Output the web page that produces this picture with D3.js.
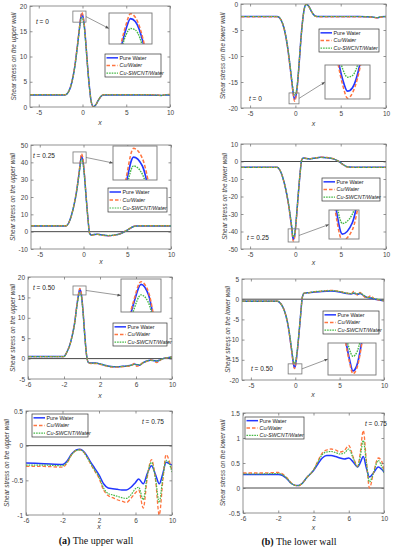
<!DOCTYPE html>
<html><head><meta charset="utf-8">
<script src="https://cdn.jsdelivr.net/npm/d3@7"></script>
<style>body{margin:0;background:#fff} svg{display:block}</style>
</head><body><svg id="c" width="396" height="550"></svg>
<script>
// ---------------- DATA ----------------
const seriesNames = ["Pure Water", "Cu/Water", "Cu-SWCNT/Water"];
const timeLabels = ["0", "0", "0.25", "0.25", "0.50", "0.50", "0.75", "0.75"];
const yTitles = ["Shear stress on the upper wall", "Shear stress on the lower wall"];
const captionTags = ["(a)", "(b)"];
const captionTexts = [" The upper wall", " The lower wall"];

// t = 0, upper wall
const p1X   = [-6,-4,-2,-1.6,-1.2,-0.9,-0.6,-0.4,-0.2,-0.1,0,0.2,0.4,0.6,0.8,1.0,1.25,1.5,1.8,2.1,2.4,3,5,7,8.5,9,9.5,10];
const p1Pure= [2.4,2.4,2.4,3.0,5.0,7.8,11.8,14.8,17.6,18.4,18.2,16.2,12.2,7.6,3.8,1.0,0.05,0.4,1.3,2.1,2.4,2.4,2.4,2.4,2.35,2.3,2.4,2.4];
const p1Cu  = [2.45,2.45,2.45,3.0,5.1,7.9,12.0,15.0,17.9,18.75,18.5,16.4,12.3,7.6,3.8,1.0,0.0,0.4,1.3,2.1,2.45,2.45,2.45,2.45,2.4,2.3,2.45,2.5];
const p1Hyb = [2.4,2.4,2.4,3.0,5.0,7.7,11.6,14.6,17.2,17.7,17.6,15.8,12.0,7.6,3.8,1.0,0.1,0.4,1.3,2.1,2.4,2.4,2.4,2.4,2.35,2.3,2.4,2.4];

// t = 0, lower wall
const p2X   = [-6,-4,-2,-1.6,-1.2,-0.9,-0.6,-0.4,-0.2,-0.1,0,0.2,0.4,0.6,0.8,1.0,1.2,1.5,1.8,2.1,2.4,3,5,7,8.5,9,9.5,10];
const p2Pure= [-2.4,-2.4,-2.4,-3.0,-5.0,-7.8,-11.8,-14.8,-17.6,-18.3,-18.1,-16.0,-11.8,-7.0,-3.2,-0.8,-0.05,-0.5,-1.5,-2.2,-2.4,-2.4,-2.4,-2.4,-2.5,-2.65,-2.45,-2.4];
const p2Cu  = [-2.45,-2.45,-2.45,-3.0,-5.1,-7.9,-12.0,-15.0,-17.9,-18.7,-18.4,-16.2,-11.9,-7.0,-3.2,-0.8,0.0,-0.5,-1.5,-2.2,-2.45,-2.45,-2.45,-2.45,-2.55,-2.7,-2.5,-2.45];
const p2Hyb = [-2.4,-2.4,-2.4,-3.0,-5.0,-7.7,-11.6,-14.5,-17.0,-17.5,-17.4,-15.6,-11.6,-7.0,-3.2,-0.8,-0.1,-0.5,-1.5,-2.2,-2.4,-2.4,-2.4,-2.4,-2.5,-2.6,-2.45,-2.4];

// t = 0.25, upper wall
const p3X   = [-6,-4,-2,-1.7,-1.4,-1.1,-0.8,-0.6,-0.4,-0.25,-0.1,0.1,0.3,0.5,0.7,0.9,1.2,1.6,2.0,2.8,3.5,4.2,4.8,5.2,5.6,6.0,6.5,8,10];
const p3Pure= [3.3,3.3,3.3,5,9,15,23,30,38,43.5,42,33,20,8,-1,-2,-1.7,-1.5,-1.8,-2.3,-2.0,-1.2,0.3,1.5,2.7,3.2,3.3,3.3,3.3];
const p3Cu  = [3.4,3.4,3.4,5,9,15,23.5,30.5,38.8,45,43.3,33.8,20.5,8,-1,-2.1,-1.8,-1.6,-1.9,-2.4,-2.1,-1.2,0.4,1.6,2.8,3.3,3.4,3.4,3.4];
const p3Hyb = [3.3,3.3,3.3,5,9,15,22.7,29.5,37,42,40.6,32.3,19.8,8,-1,-2,-1.7,-1.5,-1.8,-2.2,-1.9,-1.2,0.3,1.5,2.7,3.2,3.3,3.3,3.3];

// t = 0.25, lower wall
const p4X   = [-6,-4,-2,-1.7,-1.4,-1.1,-0.8,-0.6,-0.4,-0.25,-0.1,0.1,0.3,0.5,0.7,0.9,1.2,1.6,2.0,2.8,3.5,4.2,4.8,5.2,5.6,6.0,6.5,8,10];
const p4Pure= [-3.3,-3.3,-3.3,-5,-9,-15,-23,-30,-38,-44.6,-43,-33,-20,-8,1,2,1.7,1.5,1.8,2.4,2.2,1.5,0,-1.5,-2.8,-3.2,-3.3,-3.3,-3.3];
const p4Cu  = [-3.4,-3.4,-3.4,-5,-9,-15,-23.5,-30.5,-39,-45.5,-44,-34,-20.5,-8,1,2.1,1.8,1.6,1.9,2.5,2.3,1.6,0,-1.6,-2.9,-3.3,-3.4,-3.4,-3.4];
const p4Hyb = [-3.3,-3.3,-3.3,-5,-9,-15,-22.7,-29.5,-37,-43.1,-41.8,-32.5,-19.8,-8,1,2,1.7,1.5,1.8,2.3,2.1,1.5,0,-1.5,-2.8,-3.2,-3.3,-3.3,-3.3];

// t = 0.50, upper wall
const p5X   = [-6,-4,-2,-1.7,-1.4,-1.1,-0.8,-0.6,-0.4,-0.25,-0.1,0.1,0.3,0.5,0.7,1.0,1.5,2.0,2.5,3,3.5,4,4.5,5,5.5,5.8,6.1,6.4,6.8,7.2,7.6,8.0,8.3,8.7,9,9.5,10];
const p5Pure= [0.5,0.5,0.5,1.5,3,5.5,9,12.5,15.5,17,16.2,12,6,1,-0.9,-1.1,-1.1,-1.3,-1.6,-1.9,-2.0,-2.0,-1.9,-1.8,-1.6,-1.3,-1.5,-1.6,-1.0,-0.6,-0.4,-0.5,-0.6,-0.3,0,0.2,0.4];
const p5Cu  = [0.5,0.5,0.5,1.5,3,5.5,9,12.6,15.7,17.2,16.4,12.1,6,1,-0.9,-1.2,-1.2,-1.4,-1.7,-2.0,-2.1,-2.1,-2.0,-1.9,-1.7,-1.2,-1.9,-1.7,-0.9,-0.7,-0.3,-0.6,-1.0,-0.4,0,0.2,0.4];
const p5Hyb = [0.5,0.5,0.5,1.5,3,5.4,8.8,12.2,15,16.2,15.6,11.7,5.8,1,-0.9,-1.1,-1.1,-1.3,-1.6,-1.9,-2.0,-2.0,-1.9,-1.8,-1.6,-1.4,-1.5,-1.5,-1.0,-0.6,-0.4,-0.5,-0.6,-0.3,0,0.2,0.4];

// t = 0.50, lower wall
const p6X   = [-6,-4,-2,-1.6,-1.2,-0.9,-0.6,-0.4,-0.2,-0.1,0,0.2,0.4,0.6,0.8,1.0,1.5,2.0,3.0,4.0,5.0,5.8,6.3,6.6,7.0,7.3,7.7,8.0,8.5,9.0,9.5,10];
const p6Pure= [-0.5,-0.5,-0.5,-1.2,-3,-5.5,-9.5,-12.8,-16,-17,-16.6,-13.5,-9,-4,0.5,1.5,1.6,1.7,1.9,2.0,1.8,1.4,1.3,1.5,1.2,1.4,0.9,0.5,0.3,0,-0.2,-0.4];
const p6Cu  = [-0.5,-0.5,-0.5,-1.2,-3,-5.5,-9.6,-13,-16.2,-17.2,-16.8,-13.6,-9,-4,0.5,1.5,1.6,1.8,2.0,2.2,1.9,1.5,1.3,1.9,1.0,1.7,0.8,0.3,0.8,0,-0.2,-0.4];
const p6Hyb = [-0.5,-0.5,-0.5,-1.2,-3,-5.4,-9.2,-12.4,-15.3,-15.9,-15.6,-13,-8.8,-4,0.5,1.5,1.6,1.8,2.0,2.1,1.9,1.5,1.4,1.6,1.3,1.5,1.0,0.5,0.4,0.1,-0.1,-0.4];

// t = 0.75, upper wall
const p7X   = [-6,-4,-2,-1.5,-1,-0.5,-0.1,0.3,0.7,1.1,1.5,2,2.5,3,3.5,4,4.5,5,5.5,6.0,6.35,6.85,7.3,7.75,8.2,8.6,9.0,9.35,9.7,10];
const p7Pure= [-0.25,-0.26,-0.27,-0.22,-0.12,-0.06,-0.05,-0.08,-0.15,-0.24,-0.32,-0.42,-0.55,-0.61,-0.62,-0.63,-0.64,-0.64,-0.6,-0.53,-0.48,-0.55,-0.4,-0.29,-0.42,-0.55,-0.4,-0.24,-0.26,-0.28];
const p7Cu  = [-0.3,-0.3,-0.31,-0.25,-0.13,-0.07,-0.06,-0.09,-0.17,-0.27,-0.36,-0.47,-0.64,-0.72,-0.75,-0.78,-0.8,-0.82,-0.76,-0.68,-0.64,-0.9,-0.45,-0.2,-0.5,-1.0,-0.5,-0.13,-0.22,-0.36];
const p7Hyb = [-0.28,-0.28,-0.29,-0.24,-0.13,-0.07,-0.06,-0.09,-0.17,-0.26,-0.35,-0.45,-0.61,-0.69,-0.71,-0.73,-0.75,-0.76,-0.71,-0.62,-0.6,-0.78,-0.42,-0.24,-0.48,-0.82,-0.45,-0.21,-0.26,-0.38];

// t = 0.75, lower wall
const p8X   = [-6,-4,-2,-1.5,-1,-0.5,0,0.3,0.7,1.2,2,2.5,3,3.5,4,4.5,5,5.5,6,6.5,7,7.3,7.65,8.0,8.35,8.8,9.35,9.7,10];
const p8Pure= [0.27,0.27,0.27,0.25,0.18,0.09,0.05,0.05,0.09,0.2,0.35,0.48,0.6,0.65,0.65,0.63,0.6,0.58,0.6,0.52,0.42,0.5,0.63,0.4,0.22,0.3,0.42,0.38,0.32];
const p8Cu  = [0.3,0.3,0.31,0.28,0.2,0.1,0.05,0.04,0.09,0.2,0.36,0.54,0.7,0.76,0.78,0.76,0.72,0.75,0.85,0.62,0.43,0.7,1.15,0.55,0.0,0.3,0.6,0.55,0.35];
const p8Hyb = [0.28,0.28,0.29,0.26,0.19,0.09,0.05,0.05,0.09,0.2,0.36,0.52,0.67,0.72,0.73,0.71,0.68,0.7,0.78,0.6,0.42,0.62,0.95,0.5,0.12,0.3,0.55,0.45,0.3];

// tick values per panel
const xTicksA = [-5, 0, 5, 10];
const xTicksB = [-6, -2, 2, 6, 10];
const yTicks1 = [0, 5, 10, 15, 20];
const yTicks2 = [-20, -15, -10, -5, 0];
const yTicks3 = [-10, 0, 10, 20, 30, 40, 50];
const yTicks4 = [-50, -40, -30, -20, -10, 0, 10];
const yTicks5 = [-5, 0, 5, 10, 15, 20];
const yTicks6 = [-20, -15, -10, -5, 0, 5];
const yTicks7 = [-1, -0.5, 0, 0.5];
const yTicks8 = [-0.5, 0, 0.5, 1, 1.5];

// ---------------- LAYOUT ----------------
const panels = [
  {x:p1X, ys:[p1Pure,p1Cu,p1Hyb], xt:xTicksA, yt:yTicks1, xd:[-6,10], yd:[0,20], box:[30,6,170,107], side:0, ylx:14, xly:125, tpos:[36,24], leg:[105,54,161,77],
   zr:[-1.1,0.4,16.8,19], ib:[109,13,152,44], ixd:[-0.55,0.35], iyd:[16.6,18.8]},
  {x:p2X, ys:[p2Pure,p2Cu,p2Hyb], xt:xTicksA, yt:yTicks2, xd:[-6,10], yd:[-20,0], box:[241,4,386,108], side:1, ylx:223, xly:126, tpos:[249,101], leg:[319,29,379,52],
   zr:[-0.7,0.4,-19.2,-17.1], ib:[325,65,370,99], ixd:[-0.55,0.35], iyd:[-18.75,-16.8]},
  {x:p3X, ys:[p3Pure,p3Cu,p3Hyb], xt:xTicksA, yt:yTicks3, xd:[-6,10], yd:[-10,50], box:[31,145,171,249], side:0, ylx:13, xly:264, tpos:[33,158], leg:[108,188,167,212],
   zr:[-1.2,0.3,39.6,46], ib:[113,146,157,180], ixd:[-0.6,0.15], iyd:[39.6,45.4]},
  {x:p4X, ys:[p4Pure,p4Cu,p4Hyb], xt:xTicksA, yt:yTicks4, xd:[-6,10], yd:[-50,10], box:[241,144,386,249], side:1, ylx:225, xly:265, tpos:[247,240], leg:[322,178,380,201],
   zr:[-0.8,0.4,-46,-38.5], ib:[329,210,359,239], ixd:[-0.45,0.0], iyd:[-45.3,-41.2]},
  {x:p5X, ys:[p5Pure,p5Cu,p5Hyb], xt:xTicksB, yt:yTicks5, xd:[-6,10], yd:[-5,20], box:[28,277,172,379], side:0, ylx:13, xly:398, tpos:[33,290], leg:[113,323,167,346],
   zr:[-1,0.45,15.6,17.8], ib:[121,279,161,312], ixd:[-0.65,0.15], iyd:[14.9,17.4]},
  {x:p6X, ys:[p6Pure,p6Cu,p6Hyb], xt:xTicksA, yt:yTicks6, xd:[-6,10], yd:[-20,5], box:[242,279,384,380], side:1, ylx:228, xly:397, tpos:[251,371], leg:[323,311,379,334],
   zr:[-0.8,0.75,-18.5,-16], ib:[328,343,376,375], ixd:[-0.75,0.5], iyd:[-17.3,-14.9]},
  {x:p7X, ys:[p7Pure,p7Cu,p7Hyb], xt:xTicksB, yt:yTicks7, xd:[-6,10], yd:[-1,0.5], box:[26,411,172,515], side:0, ylx:7, xly:529, tpos:[142,424], leg:[32,414,88,437]},
  {x:p8X, ys:[p8Pure,p8Cu,p8Hyb], xt:xTicksB, yt:yTicks8, xd:[-6,10], yd:[-0.5,1.5], box:[243,413,384,513], side:1, ylx:223, xly:530, tpos:[365,426], leg:[245,417,304,439]}
];
const captionPos = [[96,544],[299,545]];

const styles = [
  {c:"#2236ff", w:1.5, d:null},
  {c:"#ff7540", w:1.3, d:"3.5,2"},
  {c:"#45b845", w:1.2, d:"1.6,1"}
];
const FONT = "'Liberation Sans', Arial, sans-serif";
const fmt = d => String(d);

// ---------------- DRAW ----------------
const svg = d3.select("#c");
svg.append("rect").attr("width",396).attr("height",550).attr("fill","#fff");
const defs = svg.append("defs");
defs.append("marker").attr("id","ah").attr("viewBox","0 0 10 10").attr("refX",10).attr("refY",5)
  .attr("markerWidth",6).attr("markerHeight",6).attr("orient","auto")
  .append("path").attr("d","M0,1L10,5L0,9z").attr("fill","#555");

function styleAxis(sel, labels){
  sel.select(".domain").remove();
  sel.selectAll(".tick line").attr("stroke","#666").attr("stroke-width",0.7);
  sel.selectAll("text").attr("font-size",6.5).attr("font-family",FONT).attr("fill","#444");
  if(!labels) sel.selectAll("text").remove();
}

panels.forEach((p,i)=>{
  const [l,t,r,b] = p.box;
  const x = d3.scaleLinear().domain(p.xd).range([l,r]);
  const y = d3.scaleLinear().domain(p.yd).range([b,t]);
  const g = svg.append("g");
  const cid = "clip"+i;
  defs.append("clipPath").attr("id",cid).append("rect").attr("x",l).attr("y",t).attr("width",r-l).attr("height",b-t);

  // zero line
  if (p.yd[0] < 0 && p.yd[1] > 0) {
    g.append("line").attr("x1",l).attr("x2",r).attr("y1",y(0)).attr("y2",y(0)).attr("stroke","#333").attr("stroke-width",0.9);
  }

  const line = d3.line().x(d=>x(d[0])).y(d=>y(d[1])).curve(d3.curveMonotoneX);
  const lg = g.append("g").attr("clip-path",`url(#${cid})`);
  p.ys.forEach((vals,k)=>{
    const pts = p.x.map((xv,j)=>[xv, vals[j]]);
    lg.append("path").attr("d",line(pts)).attr("fill","none").attr("stroke",styles[k].c)
      .attr("stroke-width",styles[k].w).attr("stroke-dasharray",styles[k].d);
  });

  // axes
  g.append("g").attr("transform",`translate(0,${b})`)
    .call(d3.axisBottom(x).tickValues(p.xt).tickSize(-2.5).tickPadding(3.5).tickFormat(fmt)).call(s=>styleAxis(s,true));
  g.append("g").attr("transform",`translate(0,${t})`)
    .call(d3.axisTop(x).tickValues(p.xt).tickSize(-2.5)).call(s=>styleAxis(s,false));
  g.append("g").attr("transform",`translate(${l},0)`)
    .call(d3.axisLeft(y).tickValues(p.yt).tickSize(-2.5).tickPadding(3).tickFormat(fmt)).call(s=>styleAxis(s,true));
  g.append("g").attr("transform",`translate(${r},0)`)
    .call(d3.axisRight(y).tickValues(p.yt).tickSize(-2.5)).call(s=>styleAxis(s,false));
  g.append("rect").attr("x",l).attr("y",t).attr("width",r-l).attr("height",b-t)
    .attr("fill","none").attr("stroke","#777").attr("stroke-width",0.8);

  // axis titles
  g.append("text").attr("x",(l+r)/2).attr("y",p.xly).attr("text-anchor","middle")
    .attr("font-family",FONT).attr("font-size",7).attr("font-style","italic").attr("fill","#444").text("x");
  g.append("text").attr("transform",`translate(${p.ylx},${(t+b)/2}) rotate(-90)`).attr("text-anchor","middle")
    .attr("dy","0.35em").attr("font-family",FONT).attr("font-size",6.5).attr("font-style","italic").attr("fill","#444")
    .text(yTitles[p.side]);

  // time label
  const tt = g.append("text").attr("x",p.tpos[0]).attr("y",p.tpos[1]).attr("font-family",FONT).attr("font-size",6.5).attr("fill","#222");
  tt.append("tspan").attr("font-style","italic").text("t");
  tt.append("tspan").text(" = " + timeLabels[i]);

  // zoom inset
  if (p.zr) {
    const [zx0,zx1,zy0,zy1] = p.zr;
    const rx0 = x(zx0), rx1 = x(zx1), ry0 = y(zy1), ry1 = y(zy0);
    g.append("rect").attr("x",rx0).attr("y",ry0).attr("width",rx1-rx0).attr("height",ry1-ry0)
      .attr("fill","none").attr("stroke","#777").attr("stroke-width",0.8);
    const [bx0,by0,bx1,by1] = p.ib;
    g.append("line").attr("x1",rx1).attr("y1",(ry0+ry1)/2).attr("x2",bx0).attr("y2",(by0+by1)/2)
      .attr("stroke","#555").attr("stroke-width",0.6).attr("marker-end","url(#ah)");
    const ix = d3.scaleLinear().domain(p.ixd).range([bx0,bx1]);
    const iy = d3.scaleLinear().domain(p.iyd).range([by1,by0]);
    const icid = "iclip"+i;
    defs.append("clipPath").attr("id",icid).append("rect").attr("x",bx0).attr("y",by0).attr("width",bx1-bx0).attr("height",by1-by0);
    g.append("rect").attr("x",bx0).attr("y",by0).attr("width",bx1-bx0).attr("height",by1-by0).attr("fill","#fff");
    const iline = d3.line().x(d=>ix(d[0])).y(d=>iy(d[1])).curve(d3.curveMonotoneX);
    const ig = g.append("g").attr("clip-path",`url(#${icid})`);
    p.ys.forEach((vals,k)=>{
      const pts = p.x.map((xv,j)=>[xv, vals[j]]);
      ig.append("path").attr("d",iline(pts)).attr("fill","none").attr("stroke",styles[k].c)
        .attr("stroke-width",styles[k].w+0.2).attr("stroke-dasharray",styles[k].d);
    });
    g.append("rect").attr("x",bx0).attr("y",by0).attr("width",bx1-bx0).attr("height",by1-by0)
      .attr("fill","none").attr("stroke","#777").attr("stroke-width",0.9);
  }

  // legend
  const [gx0,gy0,gx1,gy1] = p.leg;
  g.append("rect").attr("x",gx0).attr("y",gy0).attr("width",gx1-gx0).attr("height",gy1-gy0)
    .attr("fill","#fff").attr("stroke","#333").attr("stroke-width",0.7);
  const rowH = (gy1-gy0)/3;
  seriesNames.forEach((nm,k)=>{
    const cy = gy0 + rowH*(k+0.5);
    g.append("line").attr("x1",gx0+1.5).attr("x2",gx0+13).attr("y1",cy).attr("y2",cy)
      .attr("stroke",styles[k].c).attr("stroke-width",styles[k].w).attr("stroke-dasharray",styles[k].d);
    g.append("text").attr("x",gx0+14.5).attr("y",cy).attr("dy","0.35em").attr("font-family",FONT)
      .attr("font-size",5.4).attr("fill","#222").attr("font-style",k===0?"normal":"italic").text(nm);
  });
});

// captions
captionTags.forEach((tag,i)=>{
  const tx = svg.append("text").attr("x",captionPos[i][0]).attr("y",captionPos[i][1]).attr("text-anchor","middle")
    .attr("font-family","'Liberation Serif','Times New Roman',serif").attr("font-size",10).attr("fill","#111");
  tx.append("tspan").attr("font-weight","bold").text(tag);
  tx.append("tspan").text(captionTexts[i]);
});
</script>
</body></html>
